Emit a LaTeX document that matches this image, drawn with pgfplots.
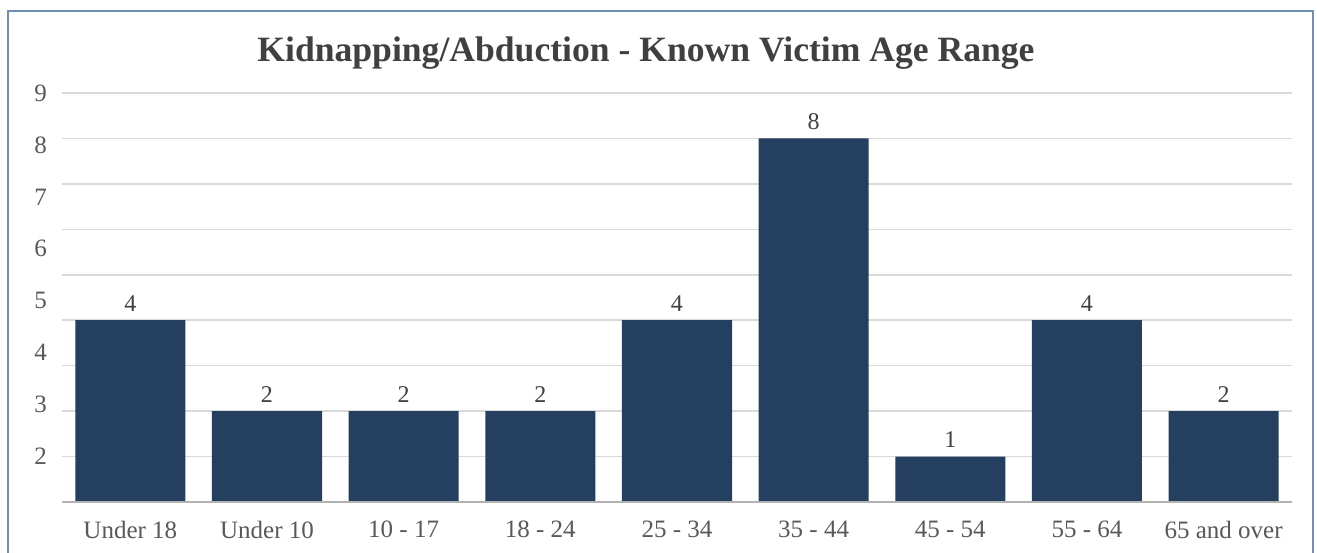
\documentclass[border=0pt]{standalone}
\usepackage{pgfplots}
\pgfplotsset{compat=1.18}
\usepackage{fontspec}
\setmainfont{Liberation Serif}
\definecolor{barblue}{HTML}{243F60}
\definecolor{gridgray}{HTML}{D9D9D9}
\definecolor{txtgray}{HTML}{595959}
\definecolor{framebl}{HTML}{6F8FB6}
\begin{document}
\begin{tikzpicture}
\path[use as bounding box] (0,0) rectangle (658.5pt,276pt);
\fill[white] (0,0) rectangle (658.5pt,276pt);
\draw[framebl, line width=1.2pt] (4pt,-5pt) -- (4pt,270.5pt) -- (656.5pt,270.5pt) -- (656.5pt,-5pt);
\node[anchor=base, font=\bfseries\fontsize{17.8}{19}\selectfont, text=black!75] at (323pt,245pt) {Kidnapping/Abduction - Known Victim Age Range};
\begin{axis}[
  at={(31pt,25pt)}, anchor=south west,
  scale only axis, width=615pt, height=204.5pt,
  xmin=-0.5, xmax=8.5, ymin=0, ymax=9,
  axis line style={draw=none},
  ybar, bar width=0.805, bar shift=0pt,
  xtick=data,
  xticklabels={Under 18, Under 10, 10 - 17, 18 - 24, 25 - 34, 35 - 44, 45 - 54, 55 - 64, 65 and over},
  ytick={1,2.142857,3.285714,4.428571,5.571429,6.714286,7.857143,9},
  yticklabels={2,3,4,5,6,7,8,9},
  minor ytick={0,1,...,9},
  yminorgrids, ymajorgrids=false,
  minor grid style={gridgray, line width=0.8pt},
  major tick length=0pt, minor tick length=0pt,
  tick label style={text=txtgray, font=\fontsize{12.5}{13}\selectfont},
  yticklabel style={xshift=-4pt},
  xticklabel style={yshift=-6pt},
  /pgf/number format/assume math mode=true,
  nodes near coords,
  nodes near coords style={text=black!75, font=\fontsize{12}{13}\selectfont, yshift=1pt},
  clip=false,
]
\addplot[fill=barblue, draw=none] coordinates {(0,4) (1,2) (2,2) (3,2) (4,4) (5,8) (6,1) (7,4) (8,2)};
\draw[gray!60, line width=0.8pt] (axis cs:-0.5,0) -- (axis cs:8.5,0);
\end{axis}
\end{tikzpicture}
\end{document}
